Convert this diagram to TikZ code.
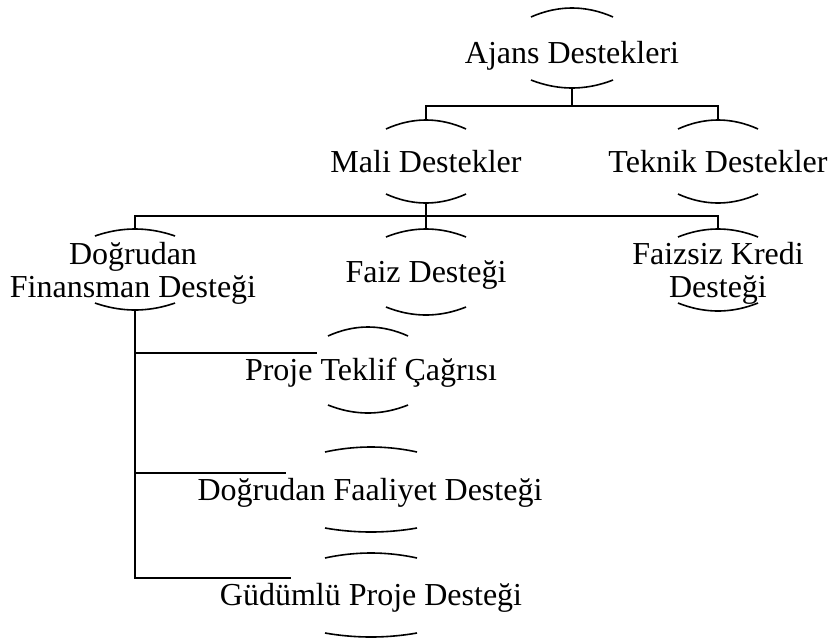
\documentclass[tikz,border=0pt]{standalone}
\usepackage{fontspec}
\setmainfont{Liberation Serif}
\newcommand\capsarcs[7]{% name, cx, half width, top end y, top peak y, bottom end y, bottom peak y
  \coordinate (#1-t) at (#2,#5);
  \coordinate (#1-b) at (#2,#7);
  \draw[caparc] (#2-#3,#4) parabola bend (#1-t) (#2+#3,#4);
  \draw[caparc] (#2-#3,#6) parabola bend (#1-b) (#2+#3,#6);
}
\newcommand\twolines[2]{\begin{tabular}[t]{@{}c@{}}#1\\#2\end{tabular}}
\begin{document}
\begin{tikzpicture}[x=0.5pt,y=-0.5pt,
  lbl/.style={anchor=base,inner sep=0pt,font=\fontsize{16}{16.5}\selectfont},
  caparc/.style={line width=0.8pt},
  conn/.style={line width=1pt}]
\useasboundingbox (0,0) rectangle (830,638);
% labels
\node[lbl] (ajans) at (572,63) {Ajans Destekleri};
\node[lbl] (mali) at (426,172) {Mali Destekler};
\node[lbl] (teknik) at (718,172) {Teknik Destekler};
\node[lbl] (dfin) at (133,264) {\twolines{Doğrudan}{Finansman Desteği}};
\node[lbl] (faiz) at (426,282) {Faiz Desteği};
\node[lbl] (fkredi) at (718,264) {\twolines{Faizsiz Kredi}{Desteği}};
\node[lbl] (proje) at (371,380) {Proje Teklif Çağrısı};
\node[lbl] (dfaal) at (370,500) {Doğrudan Faaliyet Desteği};
\node[lbl] (gud) at (371,605) {Güdümlü Proje Desteği};
% caps
\capsarcs{ajans}{572}{41}{17}{8}{80}{88}
\capsarcs{mali}{426}{40}{129}{120}{194}{203}
\capsarcs{teknik}{718}{40}{129}{120}{194}{203}
\capsarcs{dfin}{135}{40}{236}{229}{303}{310}
\capsarcs{faiz}{426}{40}{237}{229}{307}{315}
\capsarcs{fkredi}{718}{40}{237}{229}{303}{311}
\capsarcs{proje}{368}{40}{336}{327}{405}{413}
\capsarcs{dfaal}{371}{46}{452}{447}{528}{532}
\capsarcs{gud}{371}{46}{558}{553}{633}{637}
% junctions
\coordinate (j1) at (572,105.5);
\coordinate (j2) at (426,216);
\coordinate (e1) at (317,353);
\coordinate (e2) at (286,473);
\coordinate (e3) at (291,578);
% connectors
\draw[conn] (ajans-b) -- (j1);
\draw[conn] (mali-t) -- (mali-t |- j1) -- (teknik-t |- j1) -- (teknik-t);
\draw[conn] (mali-b) -- (faiz-t);
\draw[conn] (dfin-t) -- (dfin-t |- j2) -- (fkredi-t |- j2) -- (fkredi-t);
\draw[conn] (dfin-b) |- (e3);
\draw[conn] (dfin-b |- e1) -- (e1);
\draw[conn] (dfin-b |- e2) -- (e2);
\end{tikzpicture}
\end{document}
